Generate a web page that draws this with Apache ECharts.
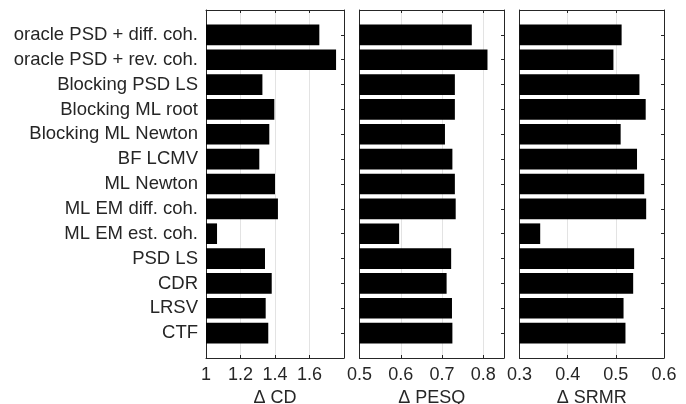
<!DOCTYPE html>
<html>
<head>
<meta charset="utf-8">
<script src="https://cdn.jsdelivr.net/npm/echarts@6/dist/echarts.min.js"></script>
<style>
html,body{margin:0;padding:0;background:#fff;}
#chart{width:686px;height:404px;}
</style>
</head>
<body>
<div id="chart"></div>
<script>
const categories = ['oracle PSD + diff. coh.', 'oracle PSD + rev. coh.', 'Blocking PSD LS', 'Blocking ML root', 'Blocking ML Newton', 'BF LCMV', 'ML Newton', 'ML EM diff. coh.', 'ML EM est. coh.', 'PSD LS', 'CDR', 'LRSV', 'CTF'];
const cdValues = [1.657, 1.754, 1.327, 1.396, 1.367, 1.309, 1.400, 1.417, 1.064, 1.342, 1.381, 1.346, 1.361];
const pesqValues = [0.772, 0.810, 0.731, 0.731, 0.707, 0.725, 0.731, 0.733, 0.596, 0.722, 0.711, 0.724, 0.725];
const srmrValues = [0.512, 0.495, 0.549, 0.562, 0.510, 0.544, 0.559, 0.563, 0.343, 0.538, 0.536, 0.516, 0.520];
const axisTitles = ['\u0394 CD', '\u0394 PESQ', '\u0394 SRMR'];
const xMins = [1, 0.5, 0.3];
const xMaxs = [1.8, 0.85, 0.6];
const xIntervals = [0.2, 0.1, 0.1];

const FONT = 'Liberation Sans, Arial, Helvetica, sans-serif';
const AX = '#262626';
const yCats = [' '].concat(categories, ['  ']);
const pad = v => ['-'].concat(v, ['-']);
const seriesValues = [cdValues, pesqValues, srmrValues];

const grids = [
  {left: 206, width: 138, top: 10, bottom: 46, outerBoundsMode: 'none', containLabel: false},
  {left: 359.5, width: 144.5, top: 10, bottom: 46, outerBoundsMode: 'none', containLabel: false},
  {left: 519.5, width: 144.5, top: 10, bottom: 46, outerBoundsMode: 'none', containLabel: false}
];

const xAxes = [], yAxes = [], series = [];
for (let i = 0; i < 3; i++) {
  xAxes.push({
    type: 'value', gridIndex: i, position: 'bottom',
    min: xMins[i], max: xMaxs[i], interval: xIntervals[i],
    name: axisTitles[i], nameLocation: 'middle', nameGap: 26,
    nameTextStyle: {fontFamily: FONT, fontSize: 18, color: AX},
    axisLine: {show: true, lineStyle: {color: AX, width: 1}},
    axisTick: {show: true, inside: true, length: 3, lineStyle: {color: AX}},
    axisLabel: {fontFamily: FONT, fontSize: 18, color: AX, margin: 8,
      showMaxLabel: i === 2, showMinLabel: true,
      formatter: v => String(Math.round(v * 100) / 100)},
    splitLine: {show: true, lineStyle: {color: '#e3e3e3', width: 1}}
  });
  xAxes.push({
    type: 'value', gridIndex: i, position: 'top',
    min: xMins[i], max: xMaxs[i], interval: xIntervals[i],
    axisLine: {show: true, lineStyle: {color: AX, width: 1}},
    axisTick: {show: true, inside: true, length: 3, lineStyle: {color: AX}},
    axisLabel: {show: false}, splitLine: {show: false}
  });
  yAxes.push({
    type: 'category', gridIndex: i, position: 'left', inverse: true,
    data: yCats, boundaryGap: false,
    axisLine: {show: true, lineStyle: {color: AX, width: 1}},
    axisTick: {show: false},
    axisLabel: {show: i === 0, fontFamily: FONT, fontSize: 18.5, color: AX, margin: 8},
    splitLine: {show: false}
  });
  yAxes.push({
    type: 'category', gridIndex: i, position: 'right', inverse: true,
    data: yCats, boundaryGap: false,
    axisLine: {show: true, lineStyle: {color: AX, width: 1}},
    axisTick: {show: true, inside: true, length: 3, lineStyle: {color: AX}},
    axisLabel: {show: false}, splitLine: {show: false}
  });
  series.push({
    type: 'bar', xAxisIndex: i * 2, yAxisIndex: i * 2,
    data: pad(seriesValues[i]), barWidth: '83%',
    itemStyle: {color: '#000'}, clip: true, silent: true, z: 3
  });
}

const chart = echarts.init(document.getElementById('chart'), null, {renderer: 'canvas'});
chart.setOption({
  animation: false,
  backgroundColor: '#fff',
  grid: grids,
  xAxis: xAxes,
  yAxis: yAxes,
  series: series
});
</script>
</body>
</html>
